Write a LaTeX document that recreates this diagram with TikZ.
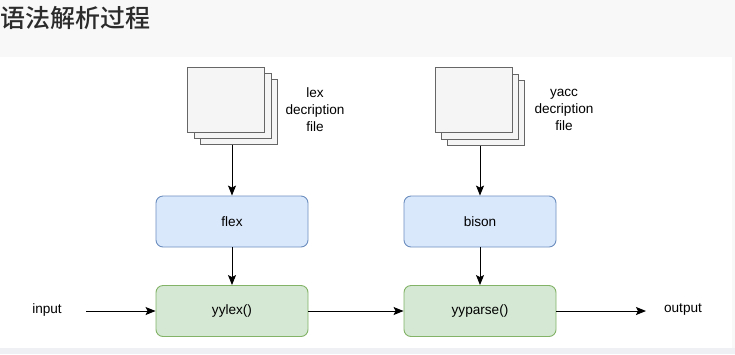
\documentclass[tikz,border=0pt]{standalone}
\usepackage{fontspec}
\setmainfont{Liberation Sans}
\newfontfamily\cjk{Noto Sans CJK SC Medium}
\usetikzlibrary{arrows.meta}
\definecolor{bgtop}{HTML}{F8F8F8}
\definecolor{bgbot}{HTML}{EEF0F4}
\definecolor{bluefill}{HTML}{DAE8FC}
\definecolor{bluedraw}{HTML}{6C8EBF}
\definecolor{greenfill}{HTML}{D5E8D4}
\definecolor{greendraw}{HTML}{82B366}
\definecolor{docfill}{HTML}{F5F5F5}
\definecolor{docdraw}{HTML}{666666}
\definecolor{titlecol}{HTML}{2B2B2B}
\tikzset{
  x=1pt, y=-1pt,
  txt/.style={font=\fontsize{13.6}{17}\selectfont, text=black, inner sep=0pt},
  bluebox/.style={draw=bluedraw, fill=bluefill, rounded corners=7pt, line width=0.9pt,
    minimum width=152pt, minimum height=51pt, font=\fontsize{13.6}{15}\selectfont},
  greenbox/.style={draw=greendraw, fill=greenfill, rounded corners=7pt, line width=0.9pt,
    minimum width=152pt, minimum height=51pt, font=\fontsize{13.6}{15}\selectfont},
  page/.style={draw=docdraw, fill=docfill, line width=0.7pt, minimum width=77pt, minimum height=65pt, inner sep=0pt},
  arr/.style={-{Stealth[length=10pt,width=8pt,inset=2pt]}, line width=1pt, black},
}
\begin{document}
\begin{tikzpicture}
\useasboundingbox (0,0) rectangle (735,354);
\fill[bgtop] (0,0) rectangle (735,354);
\fill[white] (0,57) rectangle (731.5,348);
\fill[bgbot] (0,348) rectangle (735,354);
\node[anchor=west, inner sep=0pt, text=titlecol, font=\cjk\fontsize{25}{25}\selectfont] (title) at (0.5,18) {语法解析过程};

% lex document stack
\node[page] (lexp3) at (239,112) {};
\node[page] (lexp2) at (232.5,105.5) {};
\node[page] (lexp1) at (225.5,99.5) {};
\coordinate (lexbot) at (232,144.5);
\node[txt, align=center] (lextxt) at (315,110) {lex\\decription\\file};

% yacc document stack
\node[page] (yaccp3) at (486,113) {};
\node[page] (yaccp2) at (480,106.5) {};
\node[page] (yaccp1) at (473.5,99.5) {};
\coordinate (yaccbot) at (480,145.5);
\node[txt, align=center] (yacctxt) at (564,110) {yacc\\decription\\file};

\node[bluebox] (flex) at (232,221.5) {flex};
\node[bluebox] (bison) at (480,221.5) {bison};
\node[greenbox] (yylex) at (232,311) {yylex()};
\node[greenbox] (yyparse) at (480,311) {yyparse()};

\node[txt] (input) at (47,310) {input};
\node[txt] (output) at (683,310) {output};

\draw[arr] (lexbot) -- (flex.north);
\draw[arr] (yaccbot) -- (bison.north);
\draw[arr] (flex.south) -- (yylex.north);
\draw[arr] (bison.south) -- (yyparse.north);
\draw[arr] (86,311) -- (yylex.west);
\draw[arr] (yylex.east) -- (yyparse.west);
\draw[arr] (yyparse.east) -- (646,311);
\end{tikzpicture}
\end{document}
